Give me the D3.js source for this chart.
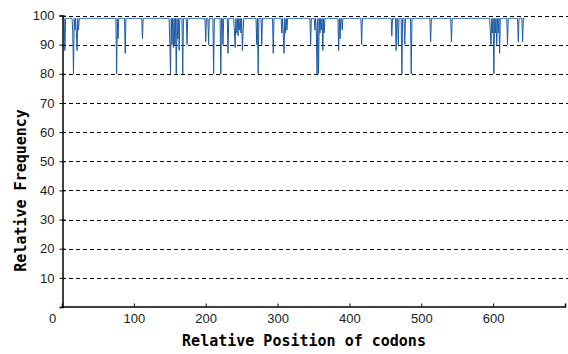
<!DOCTYPE html>
<html>
<head>
<meta charset="utf-8">
<script src="https://cdn.jsdelivr.net/npm/d3@7"></script>
<style>
  html, body { margin: 0; padding: 0; background: #fff; }
  svg { display: block; }
</style>
</head>
<body>
<div id="chart"></div>
<script>
// DATA
const baseValue = 99;
const lastCodon = 644;
const dipCodons = [
  4, 15, 16, 17, 18, 19, 20, 21, 22, 23, 24, 76, 78, 88, 112,
  150, 151, 152, 153, 154, 155, 156, 157, 158, 159, 160, 161, 163, 168, 174,
  200, 204, 211, 221, 224, 231,
  240, 241, 242, 243, 244, 245, 246, 247, 248, 249, 250, 251, 252,
  271, 273, 278, 294,
  306, 307, 308, 309, 310, 311, 312, 313, 346,
  352, 353, 354, 355, 356, 357, 358, 359, 360, 361, 362, 363, 364, 365, 366,
  385, 387, 390, 417, 459, 465, 468, 473, 477, 486, 513, 542,
  596, 597, 598, 599, 600, 601, 602, 603, 604, 605, 606, 607, 608, 609,
  620, 635, 641
];
const dipValues = [
  88, 94, 80, 99, 95, 99, 94, 88, 99, 95, 99, 80, 92, 87, 92,
  91, 80, 99, 90, 99, 89, 99, 90, 99, 80, 99, 92, 88, 80, 90,
  91, 90, 80, 80, 90, 87,
  94, 89, 99, 94, 99, 93, 99, 95, 99, 94, 99, 88, 94,
  90, 80, 90, 87,
  94, 99, 93, 87, 99, 94, 99, 95, 90,
  95, 99, 94, 80, 99, 80, 99, 94, 99, 95, 99, 88, 99, 94, 99,
  88, 92, 95, 90, 93, 88, 90, 80, 90, 80, 91, 91,
  95, 90, 99, 94, 99, 80, 99, 94, 99, 90, 99, 94, 99, 87,
  90, 91, 91
];
const xTicks = [0, 100, 200, 300, 400, 500, 600];
const yTicks = [10, 20, 30, 40, 50, 60, 70, 80, 90, 100];

const width = 568;
const height = 354;

const dipMap = new Map(dipCodons.map((c, i) => [c, dipValues[i]]));
const series = d3.range(1, lastCodon + 1).map((c) => ({
  pos: c,
  val: dipMap.has(c) ? dipMap.get(c) : baseValue,
}));

// SCALES
const xScale = d3.scaleLinear().domain([0, 700]).range([62, 565]);
const yScale = d3.scaleLinear().domain([0, 100]).range([307, 15.5]);

const svg = d3
  .select("#chart")
  .append("svg")
  .attr("width", width)
  .attr("height", height);

// GRID LINES
svg
  .append("g")
  .selectAll("line")
  .data(yTicks)
  .join("line")
  .attr("x1", xScale(0))
  .attr("x2", width)
  .attr("y1", (d) => Math.round(yScale(d)) + 0.5)
  .attr("y2", (d) => Math.round(yScale(d)) + 0.5)
  .attr("stroke", "#000")
  .attr("stroke-width", 1)
  .attr("stroke-dasharray", "4,3");

// LINE
svg
  .append("path")
  .datum(series)
  .attr("fill", "none")
  .attr("stroke", "#1c5aa5")
  .attr("stroke-width", 1)
  .attr(
    "d",
    d3
      .line()
      .x((d) => xScale(d.pos))
      .y((d) => yScale(d.val))
  );

// AXES
const xAxis = d3.axisBottom(xScale).tickValues(xTicks).tickSize(-3).tickPadding(7);
const yAxis = d3.axisLeft(yScale).tickValues(yTicks).tickSize(3).tickPadding(5);

const gx = svg
  .append("g")
  .attr("transform", `translate(0, ${Math.round(yScale(0)) - 0.5})`)
  .call(xAxis);
const gy = svg
  .append("g")
  .attr("transform", `translate(${Math.round(xScale(0)) + 0.5}, 0)`)
  .call(yAxis);

gy.selectAll(".tick line").attr("x2", 3).attr("x1", -3);

[gx, gy].forEach((g) => {
  g.select(".domain").attr("stroke", "#000").attr("stroke-width", 1.5);
  g.selectAll(".tick line").attr("stroke", "#000");
  g.selectAll("text")
    .attr("fill", "#222")
    .attr("font-family", "Liberation Sans, Arial, sans-serif")
    .attr("font-size", 13);
});
gx.selectAll(".tick text").filter((d) => d === 0).attr("dx", -10);
gx.selectAll(".tick line").filter((d) => d === 0).remove();

// AXIS TITLES
svg
  .append("text")
  .attr("x", 304)
  .attr("y", 346)
  .attr("text-anchor", "middle")
  .attr("font-family", "DejaVu Sans Mono, monospace")
  .attr("font-weight", "bold")
  .attr("font-size", 15)
  .attr("fill", "#000")
  .text("Relative Position of codons");

svg
  .append("text")
  .attr("transform", `translate(26, ${yScale(40)}) rotate(-90)`)
  .attr("text-anchor", "middle")
  .attr("font-family", "DejaVu Sans Mono, monospace")
  .attr("font-weight", "bold")
  .attr("font-size", 15)
  .attr("fill", "#000")
  .text("Relative Frequency");
</script>
</body>
</html>
